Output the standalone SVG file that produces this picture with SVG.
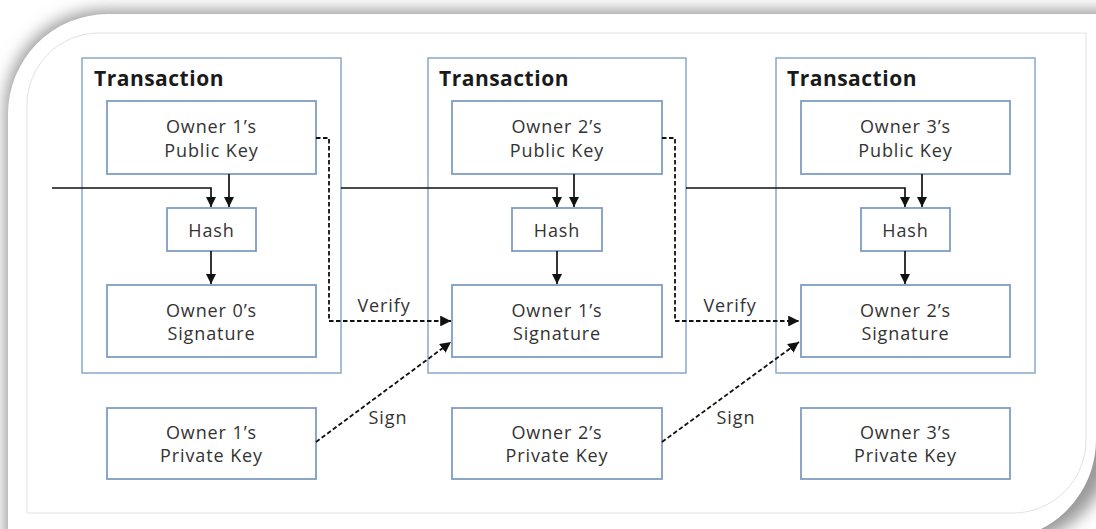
<svg xmlns="http://www.w3.org/2000/svg" width="1096" height="529" viewBox="0 0 1096 529">
<style>
.tx{fill:#fff;stroke:#8ba7c9;stroke-width:1.5}
.bx{fill:#fff;stroke:#7e9dc4;stroke-width:1.8}
.t{font-family:"Open Sans","Noto Sans",sans-serif;font-size:18px;letter-spacing:0.9px;fill:#333;text-anchor:middle}
.h{font-family:"Open Sans","Noto Sans",sans-serif;font-size:21px;font-weight:bold;letter-spacing:0.5px;fill:#1a1a1a}
.c{fill:none;stroke:#111;stroke-width:1.7}
.d{fill:none;stroke:#111;stroke-width:1.8;stroke-dasharray:4.5 2.5}
</style>
<defs>
<marker id="ah" viewBox="0 0 10 10" refX="10" refY="5" markerWidth="6" markerHeight="6" orient="auto" markerUnits="strokeWidth"><path d="M0,0 L10,5 L0,10 z" fill="#111"/></marker>
<filter id="sh" x="-0.1" y="-0.1" width="1.2" height="1.2"><feGaussianBlur stdDeviation="8"/></filter>
</defs>
<g id="frame">
<rect width="1096" height="529" fill="#fff"/>
<path d="M 5 545 L 5 110 A 100 100 0 0 1 105 10 L 1115 10 L 1115 440 A 110 110 0 0 1 1005 545 Z" fill="#999" filter="url(#sh)"/>
<path d="M 8 540 L 8 114 A 100 100 0 0 1 108 14 L 1096 14 L 1096 440 A 100 100 0 0 1 1041 529 L 8 529 Z" fill="#fff"/>
<path d="M 27 513 L 27 105 A 72 72 0 0 1 99 33 L 1086 33 L 1086 440 A 73 73 0 0 1 1013 513 Z" fill="none" stroke="#e2e2e2" stroke-width="1"/>
</g>
<g id="tx1"><rect class="tx" x="82" y="58" width="259" height="315"/><text class="h" x="94" y="86">Transaction</text></g>
<g id="tx2"><rect class="tx" x="428" y="58" width="258" height="315"/><text class="h" x="439" y="86">Transaction</text></g>
<g id="tx3"><rect class="tx" x="776" y="58" width="259" height="315"/><text class="h" x="787" y="86">Transaction</text></g>
<g id="pub1"><rect class="bx" x="107" y="101" width="209" height="73"/><text class="t" x="211.5" y="133">Owner 1’s</text><text class="t" x="211.5" y="157">Public Key</text></g>
<g id="hash1"><rect class="bx" x="167" y="208" width="89" height="43"/><text class="t" x="211.5" y="237">Hash</text></g>
<g id="sig1"><rect class="bx" x="107" y="285" width="209" height="72"/><text class="t" x="211.5" y="317">Owner 0’s</text><text class="t" x="211.5" y="340">Signature</text></g>
<g id="priv1"><rect class="bx" x="107" y="408" width="209" height="71"/><text class="t" x="211.5" y="439">Owner 1’s</text><text class="t" x="211.5" y="462">Private Key</text></g>
<g id="pub2"><rect class="bx" x="452" y="101" width="210" height="73"/><text class="t" x="557" y="133">Owner 2’s</text><text class="t" x="557" y="157">Public Key</text></g>
<g id="hash2"><rect class="bx" x="512" y="208" width="90" height="43"/><text class="t" x="557" y="237">Hash</text></g>
<g id="sig2"><rect class="bx" x="452" y="285" width="210" height="72"/><text class="t" x="557" y="317">Owner 1’s</text><text class="t" x="557" y="340">Signature</text></g>
<g id="priv2"><rect class="bx" x="452" y="408" width="210" height="71"/><text class="t" x="557" y="439">Owner 2’s</text><text class="t" x="557" y="462">Private Key</text></g>
<g id="pub3"><rect class="bx" x="801" y="101" width="209" height="73"/><text class="t" x="905.5" y="133">Owner 3’s</text><text class="t" x="905.5" y="157">Public Key</text></g>
<g id="hash3"><rect class="bx" x="861" y="208" width="89" height="43"/><text class="t" x="905.5" y="237">Hash</text></g>
<g id="sig3"><rect class="bx" x="801" y="285" width="209" height="72"/><text class="t" x="905.5" y="317">Owner 2’s</text><text class="t" x="905.5" y="340">Signature</text></g>
<g id="priv3"><rect class="bx" x="801" y="408" width="209" height="71"/><text class="t" x="905.5" y="439">Owner 3’s</text><text class="t" x="905.5" y="462">Private Key</text></g>
<g id="connectors">
<path class="c" d="M 52 188 H 211 V 207" marker-end="url(#ah)"/>
<path class="c" d="M 229 174 V 207" marker-end="url(#ah)"/>
<path class="c" d="M 211 251 V 284" marker-end="url(#ah)"/>
<path class="c" d="M 341 188 H 557 V 207" marker-end="url(#ah)"/>
<path class="c" d="M 574 174 V 207" marker-end="url(#ah)"/>
<path class="c" d="M 557 251 V 284" marker-end="url(#ah)"/>
<path class="c" d="M 686 188 H 905 V 207" marker-end="url(#ah)"/>
<path class="c" d="M 922 174 V 207" marker-end="url(#ah)"/>
<path class="c" d="M 905 251 V 284" marker-end="url(#ah)"/>
<path class="d" d="M 316 138 H 329 V 321 H 451" marker-end="url(#ah)"/>
<path class="d" d="M 662 138 H 675 V 321 H 799" marker-end="url(#ah)"/>
<path class="d" d="M 316 442 L 451 342" marker-end="url(#ah)"/>
<path class="d" d="M 662 442 L 799 342" marker-end="url(#ah)"/>
<text class="t" x="384" y="312">Verify</text>
<text class="t" x="730" y="312">Verify</text>
<text class="t" x="388" y="424">Sign</text>
<text class="t" x="736" y="424">Sign</text>
</g>
</svg>
